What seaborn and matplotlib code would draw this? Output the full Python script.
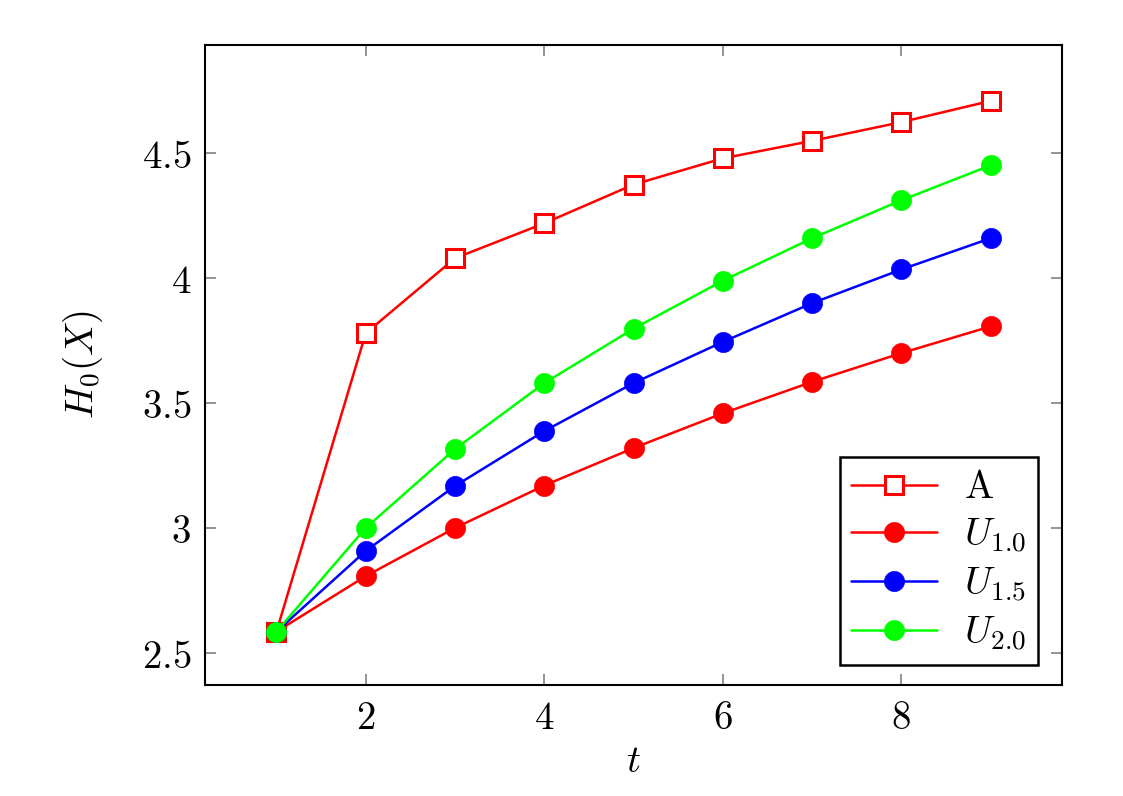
import matplotlib
matplotlib.use("Agg")
import matplotlib.pyplot as plt
import seaborn as sns
import pandas as pd

t = [1, 2, 3, 4, 5, 6, 7, 8, 9]
A = [2.585, 3.78, 4.08, 4.22, 4.375, 4.48, 4.55, 4.625, 4.71]
U10 = [2.585, 2.807, 3.0, 3.17, 3.32, 3.459, 3.585, 3.70, 3.807]
U15 = [2.585, 2.908, 3.168, 3.388, 3.58, 3.745, 3.90, 4.035, 4.16]
U20 = [2.585, 3.0, 3.316, 3.58, 3.798, 3.99, 4.16, 4.312, 4.452]

xticks = [2, 4, 6, 8]
yticks = [2.5, 3.0, 3.5, 4.0, 4.5]
ytick_labels = ["2.5", "3", "3.5", "4", "4.5"]

sns.set_theme(style="white")
plt.rcParams["mathtext.fontset"] = "cm"
plt.rcParams["text.color"] = "black"
plt.rcParams["axes.labelcolor"] = "black"
plt.rcParams["xtick.labelcolor"] = "black"
plt.rcParams["ytick.labelcolor"] = "black"

fig = plt.figure(figsize=(11.23, 7.96), dpi=100)
ax = fig.add_axes([0.1826, 0.1394, 0.7631, 0.8041])

series = [
    (r"$\mathrm{A}$", A, "#ff0000", "s", True),
    (r"$U_{1.0}$", U10, "#ff0000", "o", False),
    (r"$U_{1.5}$", U15, "#0000ff", "o", False),
    (r"$U_{2.0}$", U20, "#00ff00", "o", False),
]

for label, vals, color, marker, hollow in series:
    df = pd.DataFrame({"t": t, "v": vals})
    if hollow:
        sns.lineplot(data=df, x="t", y="v", ax=ax, color=color, linewidth=1.8,
                     marker=marker, markersize=12.5, markerfacecolor="white",
                     markeredgecolor=color, markeredgewidth=2.2, label=label)
    else:
        sns.lineplot(data=df, x="t", y="v", ax=ax, color=color, linewidth=1.8,
                     marker=marker, markersize=14.5, markerfacecolor=color,
                     markeredgecolor=color, markeredgewidth=0.5, label=label)

ax.set_xlim(0.2, 9.8)
ax.set_ylim(2.371, 4.934)
ax.set_xticks(xticks)
ax.set_xticklabels([f"${v}$" for v in xticks])
ax.set_yticks(yticks)
ax.set_yticklabels([f"${s}$" for s in ytick_labels])
ax.tick_params(axis="both", direction="in", length=8, width=1.2, color="#808080",
               labelsize=28, top=True, right=True, bottom=True, left=True, pad=10)
for sp in ax.spines.values():
    sp.set_color("black")
    sp.set_linewidth(1.5)

ax.set_xlabel(r"$t$", fontsize=28, labelpad=4)
ax.set_ylabel(r"$H_0(X)$", fontsize=28, labelpad=26)

leg = ax.legend(loc="lower right", bbox_to_anchor=(0.972, 0.032), borderaxespad=0,
                fontsize=28, frameon=True, fancybox=False, framealpha=1,
                handlelength=2.2, labelspacing=0.25, borderpad=0.3,
                handletextpad=0.7)
leg.get_frame().set_edgecolor("black")
leg.get_frame().set_linewidth(1.8)

fig.savefig("out.png", dpi=100)
